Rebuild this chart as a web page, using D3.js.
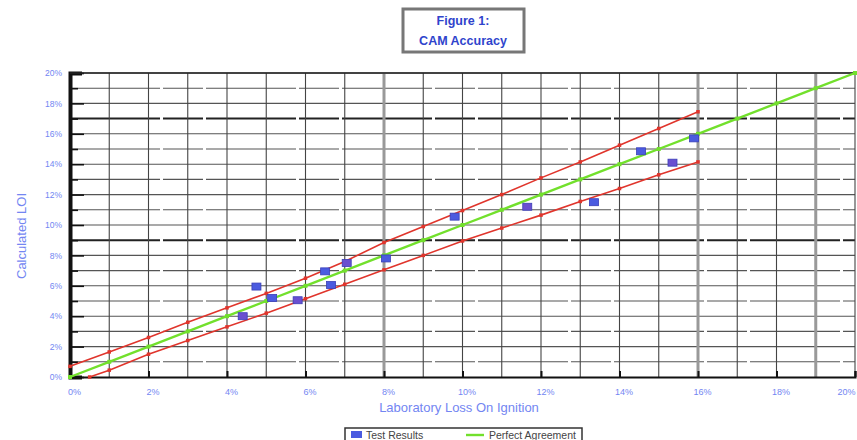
<!DOCTYPE html>
<html>
<head>
<meta charset="utf-8">
<script src="https://cdn.jsdelivr.net/npm/d3@7/dist/d3.min.js"></script>
<style>
  body { margin: 0; background: #fff; }
  text { font-family: Arial, "Liberation Sans", sans-serif; }
</style>
</head>
<body>
<svg id="chart"></svg>
<script>
// Test results: laboratory LOI (x) vs calculated LOI (y), in %
const labLoi = [4.4, 4.75, 5.15, 5.8, 6.5, 6.65, 7.05, 8.05, 9.8, 11.65, 13.35, 14.55, 15.35, 15.9];
const camLoi = [4.0, 5.95, 5.2, 5.05, 6.95, 6.05, 7.5, 7.8, 10.55, 11.2, 11.5, 14.85, 14.1, 15.7];

// perfect agreement line
const perfectX = [0, 1, 2, 3, 4, 5, 6, 7, 8, 9, 10, 11, 12, 13, 14, 15, 16, 17, 18, 19, 20];
const perfectY = [0, 1, 2, 3, 4, 5, 6, 7, 8, 9, 10, 11, 12, 13, 14, 15, 16, 17, 18, 19, 20];

// upper and lower red limit lines
const upperX = [0, 1, 2, 3, 4, 5, 6, 7, 8, 9, 10, 11, 12, 13, 14, 15, 16];
const upperY = [0.7, 1.65, 2.6, 3.6, 4.55, 5.5, 6.5, 7.6, 8.85, 9.9, 10.95, 12.0, 13.1, 14.15, 15.25, 16.35, 17.45];
const lowerX = [0.5, 1, 2, 3, 4, 5, 6, 7, 8, 9, 10, 11, 12, 13, 14, 15, 16];
const lowerY = [0, 0.45, 1.5, 2.4, 3.3, 4.2, 5.15, 6.1, 7.05, 8.0, 8.95, 9.8, 10.65, 11.55, 12.4, 13.3, 14.15];

const tickValues = [0, 2, 4, 6, 8, 10, 12, 14, 16, 18, 20];
const gridValues = d3.range(0, 21, 1);

const titleLines = ["Figure 1:", "CAM Accuracy"];
const xTitle = "Laboratory Loss On Ignition";
const yTitle = "Calculated LOI";
const legendNames = ["Test Results", "Perfect Agreement"];

const wSvg = 857;
const hSvg = 440;
const margin = { top: 73, right: 2, bottom: 63, left: 70 };
const labelBlue = "#7386f2";

const svg = d3.select("#chart")
  .attr("width", wSvg)
  .attr("height", hSvg);

const x = d3.scaleLinear()
  .domain([0, 20])
  .range([margin.left, wSvg - margin.right]);

const y = d3.scaleLinear()
  .domain([0, 20])
  .range([hSvg - margin.bottom, margin.top]);

// grid
svg.append("g")
  .selectAll("line")
  .data(gridValues.slice(1))
  .enter()
  .append("line")
  .attr("x1", margin.left)
  .attr("x2", wSvg - margin.right)
  .attr("y1", d => y(d))
  .attr("y2", d => y(d))
  .attr("stroke", d => (d === 9 || d === 17) ? "#222" : "#555")
  .attr("stroke-width", d => (d === 9 || d === 17) ? 2 : 1.1)
  .attr("stroke-dasharray", d => d % 2 ? "90,3,40,3" : null);

svg.append("g")
  .selectAll("line")
  .data(gridValues.slice(1))
  .enter()
  .append("line")
  .attr("x1", d => x(d))
  .attr("x2", d => x(d))
  .attr("y1", margin.top)
  .attr("y2", hSvg - margin.bottom)
  .attr("stroke", d => (d === 8 || d === 16 || d === 19) ? "#999" : "#444")
  .attr("stroke-width", d => (d === 8 || d === 16 || d === 19) ? 3 : 1.1);

// axes
const xAxis = d3.axisBottom(x)
  .tickValues(tickValues)
  .tickSize(-6)
  .tickFormat(d => d + "%");

const yAxis = d3.axisLeft(y)
  .tickValues(gridValues)
  .tickSize(-12)
  .tickFormat(d => d % 2 === 0 ? d + "%" : "");

const gx = svg.append("g")
  .attr("transform", `translate(0, ${hSvg - margin.bottom})`)
  .call(xAxis);
gx.select(".domain").attr("stroke", "#111").attr("stroke-width", 2);
gx.selectAll(".tick line").attr("stroke", "#111").attr("stroke-width", 2);
gx.selectAll(".tick text")
  .attr("dy", 15)
  .attr("dx", d => d === 20 ? 0 : 4)
  .attr("text-anchor", d => d === 20 ? "end" : "middle")
  .attr("font-size", 9)
  .attr("fill", labelBlue);

const gy = svg.append("g")
  .attr("transform", `translate(${margin.left}, 0)`)
  .call(yAxis);
gy.select(".domain").attr("stroke", "#111").attr("stroke-width", 4);
gy.selectAll(".tick line")
  .attr("stroke", "#111")
  .attr("stroke-width", 1.6)
  .attr("x2", d => d % 2 === 0 ? 14 : 8);
gy.selectAll(".tick text")
  .attr("x", -8)
  .attr("font-size", 8.5)
  .attr("fill", labelBlue);

// top border
svg.append("line")
  .attr("x1", margin.left)
  .attr("x2", wSvg)
  .attr("y1", margin.top)
  .attr("y2", margin.top)
  .attr("stroke", "#222")
  .attr("stroke-width", 1.5);

// lines
const line = d3.line()
  .x(d => x(d[0]))
  .y(d => y(d[1]));

function drawSeries(xs, ys, color, width, markerSize) {
  let pts = xs.map((v, i) => [v, ys[i]]);
  svg.append("path")
    .datum(pts)
    .attr("d", line)
    .attr("fill", "none")
    .attr("stroke", color)
    .attr("stroke-width", width);
  svg.append("g")
    .selectAll("rect")
    .data(pts)
    .enter()
    .append("rect")
    .attr("x", d => x(d[0]) - markerSize / 2)
    .attr("y", d => y(d[1]) - markerSize / 2)
    .attr("width", markerSize)
    .attr("height", markerSize)
    .attr("fill", color);
}

drawSeries(upperX, upperY, "#e0352c", 1.6, 3.5);
drawSeries(lowerX, lowerY, "#e0352c", 1.6, 3.5);
drawSeries(perfectX, perfectY, "#72e02c", 2.4, 4);

// test results
svg.append("g")
  .selectAll("rect")
  .data(labLoi)
  .enter()
  .append("rect")
  .attr("x", d => x(d) - 4.5)
  .attr("y", (d, i) => y(camLoi[i]) - 3.5)
  .attr("width", 9)
  .attr("height", 7)
  .attr("fill", (d, i) => i % 3 === 0 ? "#6a4fd0" : "#4b5be0")
  .attr("stroke", "#3a3fb8")
  .attr("stroke-width", 0.8);

// title box
svg.append("rect")
  .attr("x", 403)
  .attr("y", 9)
  .attr("width", 121)
  .attr("height", 43)
  .attr("fill", "#fff")
  .attr("stroke", "#777")
  .attr("stroke-width", 3);

svg.append("g")
  .selectAll("text")
  .data(titleLines)
  .enter()
  .append("text")
  .attr("x", 463)
  .attr("y", (d, i) => 25 + i * 20)
  .attr("text-anchor", "middle")
  .attr("font-size", 12.5)
  .attr("font-weight", "bold")
  .attr("fill", "#2f44cc")
  .text(d => d);

// axis titles
svg.append("text")
  .attr("x", 459)
  .attr("y", 412)
  .attr("text-anchor", "middle")
  .attr("font-size", 13)
  .attr("fill", labelBlue)
  .text(xTitle);

svg.append("text")
  .attr("transform", "translate(26, 236) rotate(-90)")
  .attr("text-anchor", "middle")
  .attr("font-size", 13)
  .attr("fill", labelBlue)
  .text(yTitle);

// legend
const legend = svg.append("g");
legend.append("rect")
  .attr("x", 345)
  .attr("y", 428)
  .attr("width", 237)
  .attr("height", 18)
  .attr("fill", "#fff")
  .attr("stroke", "#333")
  .attr("stroke-width", 1.5);

legend.append("rect")
  .attr("x", 351)
  .attr("y", 431)
  .attr("width", 11)
  .attr("height", 7)
  .attr("fill", "#4b5be0");

legend.append("line")
  .attr("x1", 466)
  .attr("x2", 484)
  .attr("y1", 435)
  .attr("y2", 435)
  .attr("stroke", "#72e02c")
  .attr("stroke-width", 2.4);

legend.selectAll("text")
  .data(legendNames)
  .enter()
  .append("text")
  .attr("x", (d, i) => i === 0 ? 366 : 489)
  .attr("y", 439)
  .attr("font-size", 10.5)
  .attr("fill", "#444")
  .text(d => d);
</script>
</body>
</html>
